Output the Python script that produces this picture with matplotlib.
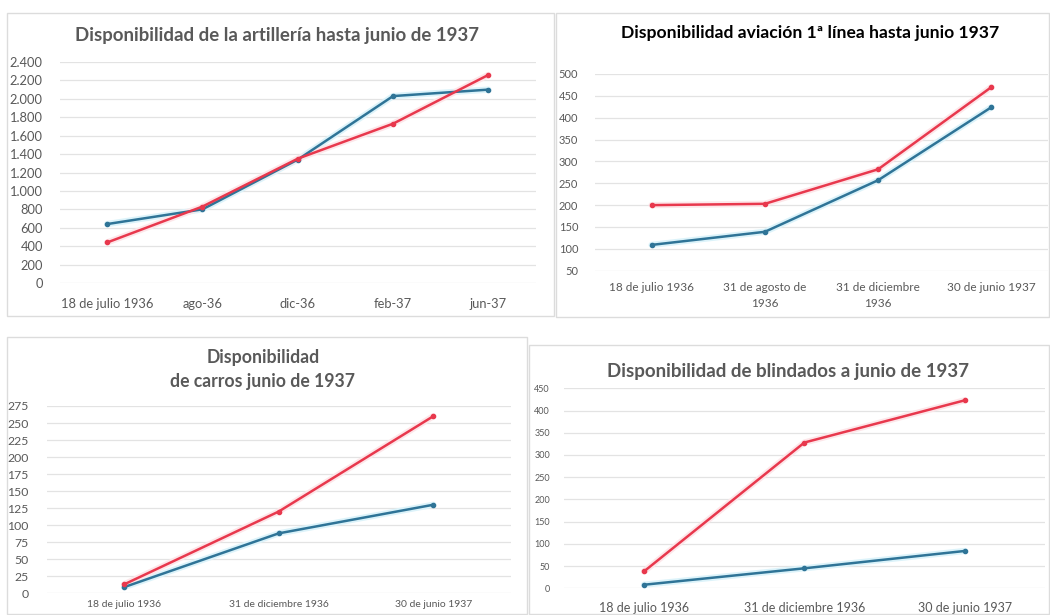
import matplotlib
matplotlib.use("Agg")
import matplotlib.pyplot as plt
from matplotlib.patches import Rectangle
from matplotlib.ticker import FuncFormatter

plt.rcParams['font.family'] = ['Lato', 'DejaVu Sans']

W, H = 1050, 615

# --- Artillería ---
art_cats = ["18 de julio 1936", "ago-36", "dic-36", "feb-37", "jun-37"]
art_red = [440, 830, 1350, 1730, 2260]
art_blue = [640, 800, 1340, 2030, 2100]

# --- Aviación 1ª línea ---
avi_cats = ["18 de julio 1936", "31 de agosto de\n1936", "31 de diciembre\n1936", "30 de junio 1937"]
avi_red = [200, 203, 282, 470]
avi_blue = [109, 139, 257, 424]

# --- Carros ---
car_cats = ["18 de julio 1936", "31 de diciembre 1936", "30 de junio 1937"]
car_red = [13, 120, 260]
car_blue = [9, 88, 130]

# --- Blindados ---
bli_cats = ["18 de julio 1936", "31 de diciembre 1936", "30 de junio 1937"]
bli_red = [38, 328, 423]
bli_blue = [8, 45, 84]

RED = "#e8384d"
BLUE = "#2f7497"
GRID = "#e3e3e3"
TXT = "#595959"

fig = plt.figure(figsize=(W / 100, H / 100), dpi=100)
fig.patch.set_facecolor("white")


def px_axes(x0, x1, ytop, ybot):
    return fig.add_axes([x0 / W, 1 - ybot / H, (x1 - x0) / W, (ybot - ytop) / H])


def panel_border(x0, y0, x1, y1):
    fig.patches.append(Rectangle((x0 / W, 1 - y1 / H), (x1 - x0) / W, (y1 - y0) / H,
                                 transform=fig.transFigure, fill=False,
                                 edgecolor="#dcdcdc", linewidth=1.0))


def thousands(v, _):
    return f"{int(v):,}".replace(",", ".")


def draw(ax, cats, red, blue, ylim, step, ysize, xsize, fmt=None, xls=1.2):
    n = len(cats)
    xs = list(range(n))
    # soft glow underneath each series
    ax.plot(xs, blue, color="#dcf3fa", lw=4.5, zorder=2, solid_capstyle="round")
    ax.plot(xs, red, color="#fde6e9", lw=4.5, zorder=2, solid_capstyle="round")
    ax.plot(xs, blue, color=BLUE, lw=1.8, marker="o", ms=3, zorder=3)
    ax.plot(xs, red, color=RED, lw=1.8, marker="o", ms=3, zorder=4)
    ax.set_xlim(-0.5, n - 0.5)
    ax.set_ylim(*ylim)
    ticks = list(range(ylim[0], ylim[1] + 1, step))
    ax.set_yticks(ticks)
    if fmt:
        ax.yaxis.set_major_formatter(FuncFormatter(fmt))
    ax.set_xticks(xs)
    ax.set_xticklabels(cats, fontsize=xsize, color=TXT, linespacing=xls)
    ax.tick_params(axis="y", labelsize=ysize, labelcolor=TXT, length=0, pad=10)
    ax.tick_params(axis="x", length=0, pad=8)
    ax.grid(axis="y", color=GRID, lw=0.9)
    ax.set_axisbelow(True)
    for s in ax.spines.values():
        s.set_visible(False)
    ax.set_facecolor("none")


# panel frames
panel_border(7, 13, 554, 316)
panel_border(556, 13, 1049, 317)
panel_border(7, 337, 527, 614)
panel_border(529, 345, 1049, 614)

ax1 = px_axes(59.5, 536, 62, 283)
draw(ax1, art_cats, art_red, art_blue, (0, 2400), 200, 9.3, 9.3, thousands)
ax1.tick_params(axis="y", pad=12)
ax1.tick_params(axis="x", pad=11)
fig.text(277 / W, 1 - 35 / H, "Disponibilidad de la artillería hasta junio de 1937",
         ha="center", va="center", fontsize=13.4, color=TXT, fontweight="bold")

ax2 = px_axes(595, 1048, 74, 270.7)
draw(ax2, avi_cats, avi_red, avi_blue, (50, 500), 50, 8, 8.5, xls=1.6)
ax2.tick_params(axis="y", pad=12)
fig.text(810 / W, 1 - 33 / H, "Disponibilidad aviación 1ª línea hasta junio 1937",
         ha="center", va="center", fontsize=12.6, color="black", fontweight="bold")

ax3 = px_axes(46.7, 510.6, 406, 593.3)
draw(ax3, car_cats, car_red, car_blue, (0, 275), 25, 8.8, 7.5)
ax3.tick_params(axis="y", pad=13)
ax3.tick_params(axis="x", pad=5)
fig.text(263 / W, 1 - 369 / H, "Disponibilidad\nde carros junio de 1937",
         ha="center", va="center", fontsize=12.7, color=TXT, fontweight="bold",
         linespacing=1.5)

ax4 = px_axes(563.8, 1045, 388.3, 588.3)
draw(ax4, bli_cats, bli_red, bli_blue, (0, 450), 50, 6.5, 9)
ax4.tick_params(axis="x", pad=10)
fig.text(788 / W, 1 - 372 / H, "Disponibilidad de blindados a junio de 1937",
         ha="center", va="center", fontsize=13.5, color=TXT, fontweight="bold")

fig.savefig("out.png", dpi=100, facecolor="white")
